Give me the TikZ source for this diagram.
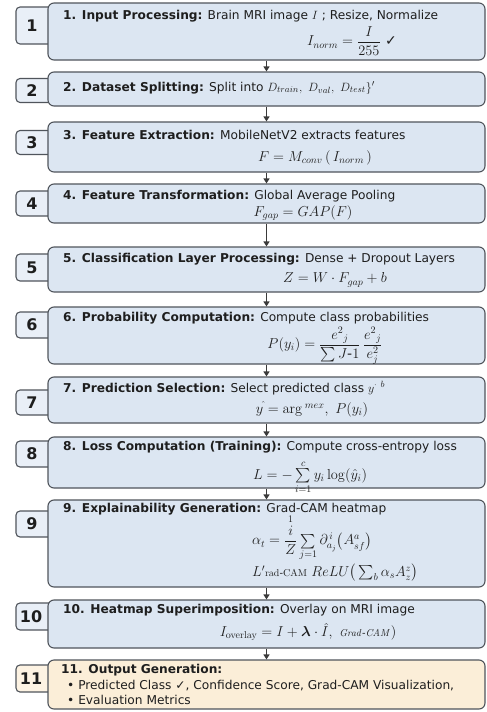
\documentclass[tikz,border=0pt]{standalone}
\usepackage{amsmath}
\usepackage[no-math]{fontspec}
\setmainfont{DejaVu Sans}
\newfontfamily\symf{DejaVu Sans}
\usetikzlibrary{arrows.meta}
\definecolor{bordc}{HTML}{50555C}
\definecolor{bluef}{HTML}{DCE6F2}
\definecolor{numf}{HTML}{E9EFF7}
\definecolor{yelf}{HTML}{FBEED8}
\definecolor{ynumf}{HTML}{FDF3E3}
\definecolor{txtc}{HTML}{1E1E1E}
\definecolor{arrc}{HTML}{3A3A3A}
\begin{document}
\begin{tikzpicture}[x=1pt,y=-1pt,
  mainbox/.style={draw=bordc, fill=bluef, rounded corners=6pt, line width=1.1pt, minimum width=437pt, inner sep=0pt},
  numbox/.style={draw=bordc, fill=numf, rounded corners=4pt, line width=1.1pt, minimum width=40pt, inner sep=0pt},
  numtxt/.style={font=\bfseries\fontsize{16}{16}\selectfont, text=txtc, inner sep=0pt},
  titletxt/.style={anchor=west, font=\fontsize{12.2}{14}\selectfont, text=txtc, inner sep=0pt},
  formtxt/.style={font=\fontsize{14}{16}\selectfont, text=txtc, inner sep=0pt},
  flow/.style={-{Triangle[width=6pt,length=5pt]}, line width=1.2pt, draw=arrc}]
\useasboundingbox (0,0) rectangle (487,712);
\fill[white] (0,0) rectangle (487,712);

% number boxes
\node[numbox, minimum height=37pt] (n1) at (36,25.5) {};
\node[numbox, minimum height=24pt] (n2) at (36,90.5) {};
\node[numbox, minimum height=24pt] (n3) at (36,142.5) {};
\node[numbox, minimum height=25pt] (n4) at (36,203.5) {};
\node[numbox, minimum height=27pt] (n5) at (36,267.5) {};
\node[numbox, minimum height=26pt] (n6) at (36,325) {};
\node[numbox, minimum height=25pt] (n7) at (36,402.5) {};
\node[numbox, minimum height=26pt] (n8) at (36,454) {};
\node[numbox, minimum height=26pt] (n9) at (36,524) {};
\node[numbox, minimum height=27pt] (n10) at (36,616.5) {};
\node[numbox, minimum height=27pt, fill=ynumf] (n11) at (36,678.5) {};

% main boxes
\node[mainbox, minimum height=57pt] (b1) at (266.5,31.5) {};
\node[mainbox, minimum height=34pt] (b2) at (266.5,89) {};
\node[mainbox, minimum height=50pt] (b3) at (266.5,147) {};
\node[mainbox, minimum height=39pt] (b4) at (266.5,203.5) {};
\node[mainbox, minimum height=45pt] (b5) at (266.5,269.5) {};
\node[mainbox, minimum height=57pt] (b6) at (266.5,335.5) {};
\node[mainbox, minimum height=46pt] (b7) at (266.5,400) {};
\node[mainbox, minimum height=51pt] (b8) at (266.5,462.5) {};
\node[mainbox, minimum height=87pt] (b9) at (266.5,543.5) {};
\node[mainbox, minimum height=48pt] (b10) at (266.5,624) {};
\node[mainbox, minimum height=49pt, fill=yelf] (b11) at (266.5,684.5) {};

% numbers
\node[numtxt] (l1) at (32,25.5) {1};
\node[numtxt] (l2) at (32,90.5) {2};
\node[numtxt] (l3) at (32,142.5) {3};
\node[numtxt] (l4) at (32,203.5) {4};
\node[numtxt] (l5) at (32,267.5) {5};
\node[numtxt] (l6) at (32,325) {6};
\node[numtxt] (l7) at (32,402.5) {7};
\node[numtxt] (l8) at (32,454) {8};
\node[numtxt] (l9) at (32,524) {9};
\node[numtxt] (l10) at (31,616.5) {10};
\node[numtxt] (l11) at (31,678.5) {11};

% titles
\node[titletxt] (t1) at (63,16) {\textbf{1. Input Processing:} Brain MRI image $I$ ; Resize, Normalize};
\node[titletxt] (t2) at (63,88) {\textbf{2. Dataset Splitting:} Split into $D_{train},\ D_{val},\ D_{test}\}'$};
\node[titletxt] (t3) at (63,135) {\textbf{3. Feature Extraction:} MobileNetV2 extracts features};
\node[titletxt] (t4) at (63,196) {\textbf{4. Feature Transformation:} Global Average Pooling};
\node[titletxt] (t5) at (63,259) {\textbf{5. Classification Layer Processing:} Dense + Dropout Layers};
\node[titletxt] (t6) at (63,318) {\textbf{6. Probability Computation:} Compute class probabilities};
\node[titletxt] (t7) at (63,388) {\textbf{7. Prediction Selection:} Select predicted class $y^{\cdot\ b}$};
\node[titletxt] (t8) at (63,447) {\textbf{8. Loss Computation (Training):} Compute cross-entropy loss};
\node[titletxt] (t9) at (63,509) {\textbf{9. Explainability Generation:} Grad-CAM heatmap};
\node[titletxt] (t10) at (63,610) {\textbf{10. Heatmap Superimposition:} Overlay on MRI image};
\node[titletxt] (t11) at (61,670) {\textbf{11. Output Generation:}};
\node[titletxt] (t11a) at (67,686) {\textbullet\ Predicted Class {\symf ✓}, Confidence Score, Grad-CAM Visualization,};
\node[titletxt] (t11b) at (67,700) {\textbullet\ Evaluation Metrics};

% formulas
\node[formtxt] (f1) at (352,41) {$I_{norm}=\dfrac{I}{255}$ {\symf\bfseries ✓}};
\node[formtxt] (f3) at (315,158) {$F = M_{conv}\,(\,I_{norm}\,)$};
\node[formtxt] (f4) at (303,213) {$F_{gap} = GAP(F)$};
\node[formtxt] (f5) at (335,280) {$Z = W\cdot F_{gap} + b$};
\node[formtxt] (f6) at (325,346) {$P(y_i) = \dfrac{e^{2}{}_{j}}{\sum J\text{-}1}\,\dfrac{e^{2}{}_{j}}{e^{2}_{j}}$};
\node[formtxt] (f7) at (312,409) {$y^{\hat{}} = \arg{}^{mex},\ P(y_i)$};
\node[formtxt] (f8) at (310,477) {$L = -\sum\limits_{i=1}^{c} y_i \log(\hat{y}_i)$};
\node[formtxt] (f9a) at (312,538) {$\alpha_t = \dfrac{\overset{1}{i}}{Z}\sum\limits_{j=1}\partial^{\,i}_{a_j}\big(A^{a}_{sf}\big)$};
\node[formtxt] (f9b) at (335,573) {$L'{\scriptstyle\mathrm{rad\text{-}CAM}}\ ReLU\big(\sum\nolimits_{b}\alpha_s A^{z}_{z}\big)$};
\node[formtxt] (f10) at (308,632) {$I_{\mathrm{overlay}} = I + \boldsymbol{\lambda}\cdot \hat{I},\ {\scriptstyle\mathit{Grad\text{-}CAM}})$};

% connectors
\draw[flow] (b1.south) -- (b2.north);
\draw[flow] (b2.south) -- (b3.north);
\draw[flow] (b3.south) -- (b4.north);
\draw[flow] (b4.south) -- (b5.north);
\draw[flow] (b5.south) -- (b6.north);
\draw[flow] (b6.south) -- (b7.north);
\draw[flow] (b7.south) -- (b8.north);
\draw[flow] (b8.south) -- (b9.north);
\draw[flow] (b9.south) -- (b10.north);
\draw[flow] (b10.south) -- (b11.north);
\end{tikzpicture}
\end{document}
